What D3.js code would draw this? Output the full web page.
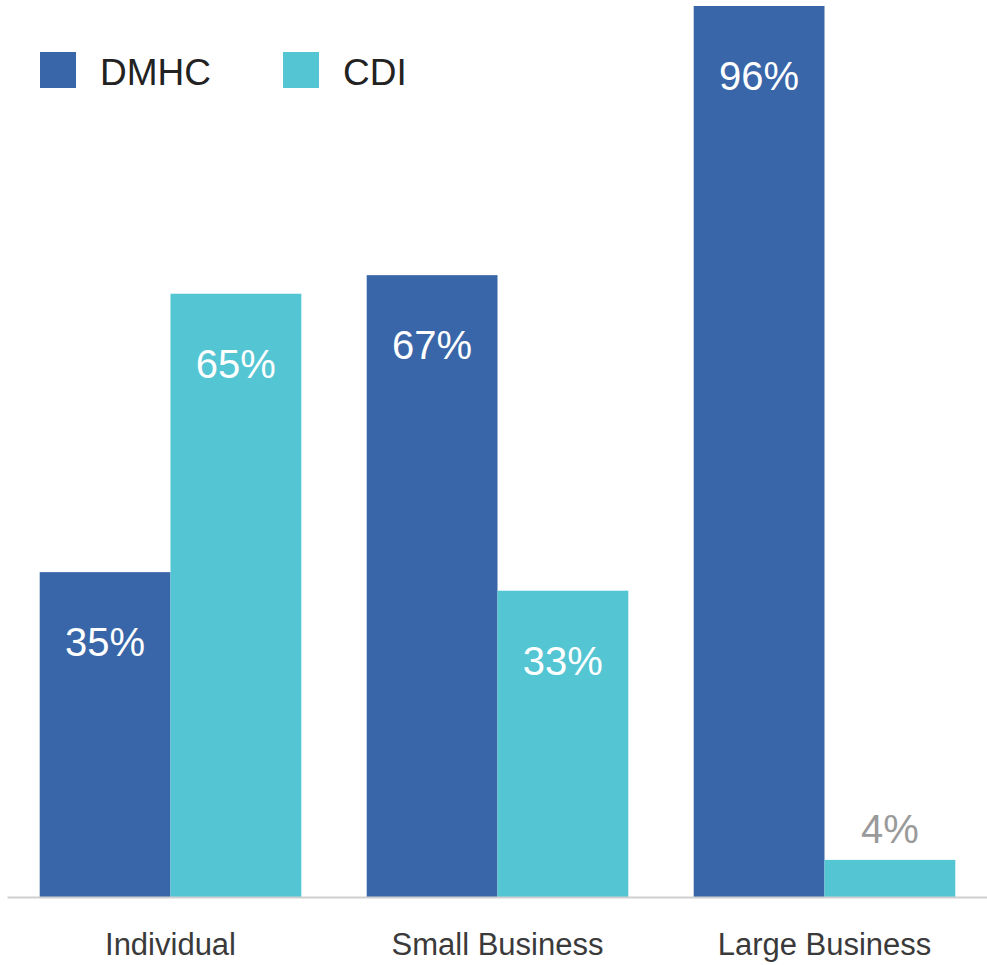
<!DOCTYPE html>
<html>
<head>
<meta charset="utf-8">
<script src="https://cdn.jsdelivr.net/npm/d3@7"></script>
<style>
  html, body { margin: 0; padding: 0; background: #fff; }
  svg { display: block; font-family: "Liberation Sans", Arial, Helvetica, sans-serif; }
</style>
</head>
<body>
<svg id="chart" width="987" height="965"></svg>
<script>
const categories = ["Individual", "Small Business", "Large Business"];
const seriesNames = ["DMHC", "CDI"];
const dmhcValues = [35, 67, 96];
const cdiValues = [65, 33, 4];
const seriesColors = ["#3866a8", "#54c5d3"];

const svg = d3.select("#chart");
const baseY = 897;

const x0 = d3.scaleBand().domain(categories).range([7, 988]).paddingInner(0.2).paddingOuter(0.1);
const x1 = d3.scaleBand().domain(seriesNames).range([0, x0.bandwidth()]);
const y = d3.scaleLinear().domain([0, 96]).range([baseY, 6]);
const color = d3.scaleOrdinal().domain(seriesNames).range(seriesColors);

const rows = categories.map((c, i) => ({
  category: c,
  values: [
    { series: "DMHC", value: dmhcValues[i] },
    { series: "CDI", value: cdiValues[i] }
  ]
}));

const groups = svg.append("g").selectAll("g").data(rows).join("g")
  .attr("transform", d => `translate(${x0(d.category)},0)`);

groups.selectAll("rect").data(d => d.values).join("rect")
  .attr("x", d => x1(d.series))
  .attr("y", d => y(d.value))
  .attr("width", x1.bandwidth())
  .attr("height", d => baseY - y(d.value))
  .attr("fill", d => color(d.series));

groups.selectAll("text.val").data(d => d.values).join("text")
  .attr("class", "val")
  .attr("x", d => x1(d.series) + x1.bandwidth() / 2)
  .attr("y", d => (baseY - y(d.value)) > 120 ? y(d.value) + 84 : y(d.value) - 17)
  .attr("text-anchor", "middle")
  .attr("font-size", 40)
  .attr("fill", d => (baseY - y(d.value)) > 120 ? "#ffffff" : "#9a9a9a")
  .text(d => d.value + "%");

// x axis
const axis = svg.append("g")
  .attr("transform", `translate(0,${baseY})`)
  .call(d3.axisBottom(x0).tickSize(0).tickPadding(0));
axis.select(".domain").attr("stroke", "#cfcfcf").attr("stroke-width", 2);
axis.selectAll(".tick text")
  .attr("y", 58).attr("dy", null)
  .attr("font-size", 31)
  .attr("font-family", "\"Liberation Sans\", Arial, sans-serif")
  .attr("fill", "#3a3a3a");

// legend
const legend = svg.append("g").selectAll("g").data(seriesNames).join("g")
  .attr("transform", (d, i) => `translate(${[40, 283][i]},52)`);
legend.append("rect").attr("width", 36).attr("height", 36).attr("fill", d => color(d));
legend.append("text").attr("x", 60).attr("y", 33)
  .attr("font-size", 37).attr("fill", "#222").text(d => d);
</script>
</body>
</html>
